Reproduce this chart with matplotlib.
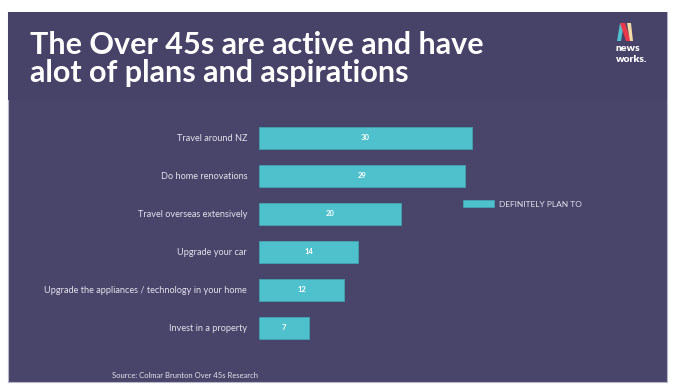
import matplotlib.pyplot as plt
from matplotlib.patches import Rectangle, Polygon

# data
categories = ['Travel around NZ', 'Do home renovations', 'Travel overseas extensively',
              'Upgrade your car', 'Upgrade the appliances / technology in your home',
              'Invest in a property']
values = [30, 29, 20, 14, 12, 7]
series_name = 'DEFINITELY PLAN TO'

bg = '#48446a'
bar_col = '#4fc1cc'
W, H = 680, 390

plt.rcParams['font.family'] = ['Lato', 'DejaVu Sans']

fig = plt.figure(figsize=(6.8, 3.9), dpi=100)
fig.patch.set_facecolor('white')

def fx(px):
    return px / W

def fy(py):
    return 1 - py / H

# slide panel
fig.patches.append(Rectangle((fx(8), fy(382)), fx(659), 370 / H, transform=fig.transFigure,
                             facecolor=bg, edgecolor='#b8b6c8', lw=0.8, zorder=-2))
fig.patches.append(Rectangle((fx(8), fy(100)), fx(659), 88 / H, transform=fig.transFigure,
                             facecolor='#464268', edgecolor='none', zorder=-1))

# title
fig.text(fx(30), fy(45), 'The Over 45s are active and have', color='white', fontsize=22,
         fontweight='bold', va='center', ha='left')
fig.text(fx(30), fy(73), 'alot of plans and aspirations', color='white', fontsize=22,
         fontweight='bold', va='center', ha='left')

# logo
fig.patches.append(Polygon([(fx(617), fy(41)), (fx(620), fy(23)), (fx(624), fy(23)), (fx(621), fy(41))],
                           closed=True, transform=fig.transFigure, facecolor='#4fc1cc', edgecolor='none'))
fig.patches.append(Polygon([(fx(620), fy(23)), (fx(625), fy(23)), (fx(631), fy(41)), (fx(626), fy(41))],
                           closed=True, transform=fig.transFigure, facecolor='#e8394a', edgecolor='none'))
fig.patches.append(Polygon([(fx(627), fy(23)), (fx(631), fy(23)), (fx(633), fy(41)), (fx(630), fy(41))],
                           closed=True, transform=fig.transFigure, facecolor='#f3d9a6', edgecolor='none'))
fig.text(fx(616), fy(48.5), 'news', color='white', fontsize=7.5, fontweight='heavy', va='center', ha='left')
fig.text(fx(616), fy(59), 'works.', color='white', fontsize=7.5, fontweight='heavy', va='center', ha='left')

# chart axes
ax = fig.add_axes([fx(259), fy(347), 355 / W, 228 / H])
ax.set_facecolor('none')
y = list(range(len(categories)))
bars = ax.barh(y, values, height=0.58, color=bar_col, edgecolor='#3fa9b4', lw=0.5, label=series_name)
ax.set_xlim(0, 50)
ax.set_ylim(5.5, -0.5)
for b, v in zip(bars, values):
    ax.text(v / 2, b.get_y() + b.get_height() / 2, str(v), color='white', fontsize=5.5,
            fontweight='bold', ha='center', va='center')
ax.set_yticks(y)
ax.set_yticklabels(categories, color='#e4e3ec', fontsize=6.6)
ax.tick_params(axis='y', length=0, pad=8.5)
ax.set_xticks([])
for s in ax.spines.values():
    s.set_visible(False)

fig.legend(handles=[bars], labels=[series_name], loc='center left',
           bbox_to_anchor=(fx(459), fy(204)), frameon=False, fontsize=6,
           handlelength=3.7, handleheight=0.8, handletextpad=0.6, borderpad=0,
           labelcolor='#e4e3ec')

fig.text(fx(185), fy(376), 'Source: Colmar Brunton Over 45s Research', color='#e4e3ec',
         fontsize=5.5, ha='center', va='center')

fig.savefig('out.png', dpi=100, facecolor=fig.get_facecolor())
